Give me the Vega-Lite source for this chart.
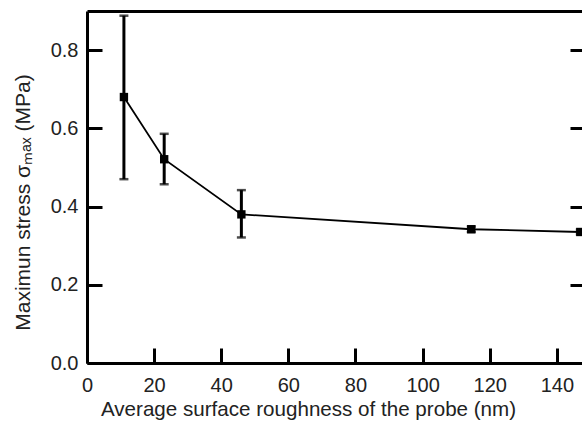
{
  "$schema": "https://vega.github.io/schema/vega-lite/v6.json",
  "width": 495,
  "height": 352,
  "autosize": {"type": "none"},
  "padding": {"left": 87, "top": 11, "right": 0, "bottom": 69},
  "background": "white",
  "config": {
    "view": {"stroke": null},
    "font": "Liberation Sans",
    "axis": {
      "grid": false,
      "domainColor": "black",
      "domainWidth": 3,
      "tickColor": "black",
      "tickWidth": 3,
      "tickSize": -15,
      "labelFont": "Liberation Sans",
      "labelFontSize": 20,
      "labelColor": "#222",
      "titleFont": "Liberation Sans",
      "titleFontSize": 20.6,
      "titleFontWeight": "normal",
      "titleColor": "#222"
    }
  },
  "data": {
    "values": [
      {"x": 11, "y": 0.68, "lo": 0.47, "hi": 0.888},
      {"x": 23, "y": 0.521, "lo": 0.457, "hi": 0.586},
      {"x": 46, "y": 0.38, "lo": 0.321, "hi": 0.442},
      {"x": 114.5, "y": 0.342, "lo": 0.335, "hi": 0.349},
      {"x": 147, "y": 0.335, "lo": 0.329, "hi": 0.341}
    ]
  },
  "layer": [
    {
      "encoding": {
        "x": {
          "field": "x",
          "type": "quantitative",
          "scale": {"domain": [0, 147.5], "nice": false, "zero": false},
          "axis": {
            "title": "Average surface roughness of the probe (nm)",
            "values": [0, 20, 40, 60, 80, 100, 120, 140],
            "labelPadding": 27,
            "titlePadding": 4,
            "titleX": 221,
            "labelFlush": false
          }
        },
        "y": {
          "field": "y",
          "type": "quantitative",
          "scale": {"domain": [0, 0.9], "nice": false},
          "axis": {
            "title": "Maximun stress σₘₐₓ (MPa)",
            "values": [0, 0.2, 0.4, 0.6, 0.8],
            "format": ".1f",
            "labelPadding": 24,
            "titlePadding": 17,
            "titleY": 191,
            "titleFontSize": 21,
            "labelFlush": false
          }
        }
      },
      "layer": [
        {"mark": {"type": "line", "color": "black", "strokeWidth": 1.8, "clip": true}},
        {
          "mark": {"type": "rule", "color": "black", "strokeWidth": 3, "clip": true},
          "encoding": {"y": {"field": "lo", "type": "quantitative"}, "y2": {"field": "hi"}}
        },
        {
          "mark": {"type": "tick", "color": "black", "orient": "horizontal", "size": 9, "thickness": 2.5, "clip": true},
          "encoding": {"y": {"field": "lo", "type": "quantitative"}}
        },
        {
          "mark": {"type": "tick", "color": "black", "orient": "horizontal", "size": 9, "thickness": 2.5, "clip": true},
          "encoding": {"y": {"field": "hi", "type": "quantitative"}}
        },
        {"mark": {"type": "square", "color": "black", "opacity": 1, "filled": true, "size": 70, "clip": true}}
      ]
    },
    {
      "mark": {"type": "rule", "opacity": 0},
      "encoding": {
        "x": {"field": "x", "type": "quantitative", "axis": {"orient": "top", "labels": false, "ticks": false, "title": null}},
        "y": {"field": "y", "type": "quantitative", "axis": {"orient": "right", "labels": false, "domain": false, "title": null, "values": [0, 0.2, 0.4, 0.6, 0.8], "tickSize": -12}}
      }
    }
  ],
  "resolve": {"axis": {"x": "independent", "y": "independent"}}
}
